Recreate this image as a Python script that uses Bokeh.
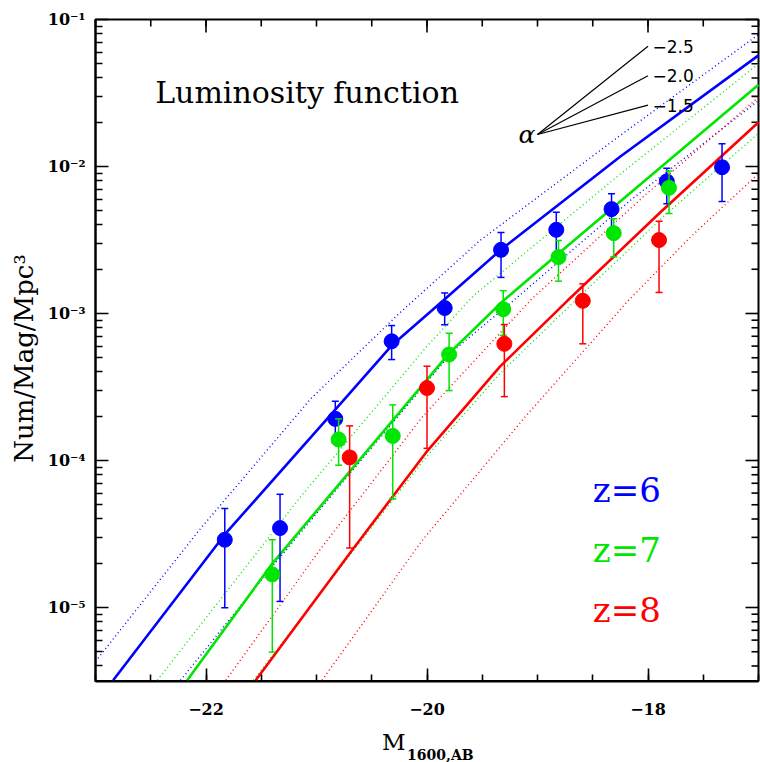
import numpy as np
from bokeh.plotting import figure
from bokeh.models import (Range1d, FixedTicker, Label, CustomJSTickFormatter,
                          ColumnDataSource)
from bokeh.embed import file_html
from bokeh.resources import INLINE

# ---------------- data ----------------
# z = 6 (blue) data points
M6 = [-21.83, -21.33, -20.83, -20.32, -19.84, -19.33, -18.83, -18.33, -17.83, -17.33]
phi6 = [2.89e-5, 3.47e-5, 1.92e-4, 6.47e-4, 1.09e-3, 2.71e-3, 3.71e-3, 5.13e-3, 7.91e-3, 9.88e-3]
hi6 = [4.71e-5, 5.89e-5, 2.53e-4, 8.28e-4, 1.38e-3, 3.56e-3, 4.89e-3, 6.52e-3, 9.73e-3, 1.43e-2]
lo6 = [9.95e-6, 1.10e-5, 1.31e-4, 4.86e-4, 8.38e-4, 1.76e-3, 2.53e-3, 3.74e-3, 5.57e-3, 5.78e-3]

# z = 7 (green) data points
M7 = [-21.40, -20.80, -20.31, -19.80, -19.31, -18.81, -18.31, -17.81]
phi7 = [1.68e-5, 1.39e-4, 1.47e-4, 5.26e-4, 1.07e-3, 2.42e-3, 3.52e-3, 7.16e-3]
hi7 = [2.89e-5, 1.92e-4, 2.39e-4, 7.34e-4, 1.43e-3, 3.14e-3, 4.41e-3, 9.31e-3]
lo7 = [4.97e-6, 9.29e-5, 5.48e-5, 2.99e-4, 7.10e-4, 1.66e-3, 2.43e-3, 4.79e-3]

# z = 8 (red) data points
M8 = [-20.70, -20.00, -19.30, -18.59, -17.90]
phi8 = [1.05e-4, 3.11e-4, 6.22e-4, 1.22e-3, 3.16e-3]
hi8 = [1.72e-4, 4.38e-4, 8.41e-4, 1.59e-3, 4.25e-3]
lo8 = [2.54e-5, 1.21e-4, 2.72e-4, 6.22e-4, 1.39e-3]

# model curves (solid = best fit, dotted = alternatives), from box edge to box edge
bs_M = [-22.84, -21.83, -20.83, -20.32, -19.84, -19.33, -18.25, -17.0]
bs_phi = [3.2e-6, 3.14e-5, 2.22e-4, 6.05e-4, 1.25e-3, 2.72e-3, 1.17e-2, 5.7e-2]
bdu_M = [-23.0, -22.05, -21.05, -20.24, -19.52, -18.25, -17.0]
bdu_phi = [4.3e-6, 3.44e-5, 2.64e-4, 1.02e-3, 3.14e-3, 1.63e-2, 7.9e-2]
bdl_M = [-22.23, -21.40, -20.69, -19.76, -19.22, -18.16, -17.0]
bdl_phi = [3.2e-6, 1.90e-5, 8.28e-5, 5.6e-4, 1.22e-3, 5.88e-3, 2.81e-2]

gs_M = [-22.17, -21.40, -19.80, -19.31, -18.81, -17.0]
gs_phi = [3.2e-6, 1.99e-5, 5.35e-4, 1.22e-3, 2.56e-3, 3.6e-2]
gdu_M = [-22.44, -21.15, -20.01, -19.58, -18.29, -17.0]
gdu_phi = [3.2e-6, 5.6e-5, 5.87e-4, 1.32e-3, 8.41e-3, 5.0e-2]
gdl_M = [-21.57, -20.70, -20.01, -19.34, -18.66, -17.84, -17.0]
gdl_phi = [3.2e-6, 2.26e-5, 1.05e-4, 3.91e-4, 1.22e-3, 4.71e-3, 1.68e-2]

rs_M = [-21.55, -20.70, -20.01, -19.34, -18.73, -17.89, -17.0]
rs_phi = [3.2e-6, 2.33e-5, 1.13e-4, 4.35e-4, 1.22e-3, 4.86e-3, 2.0e-2]
rdu_M = [-21.82, -20.96, -20.04, -19.05, -18.02, -17.0]
rdu_phi = [3.2e-6, 2.52e-5, 1.99e-4, 1.26e-3, 6.45e-3, 2.96e-2]
rdl_M = [-20.95, -20.04, -19.11, -18.18, -17.62, -17.0]
rdl_phi = [3.2e-6, 2.88e-5, 1.99e-4, 1.22e-3, 3.29e-3, 8.95e-3]

# faint-end slope indicator
alpha_vals = [-2.5, -2.0, -1.5]
alpha_labels = ["\u22122.5", "\u22122.0", "\u22121.5"]
alpha_M0, alpha_phi0, alpha_M1 = -19.0, 1.65e-2, -18.0

z_labels = ["z=6", "z=7", "z=8"]
x_ticks = [-22, -20, -18]
y_ticks = [1e-5, 1e-4, 1e-3, 1e-2, 1e-1]

BLUE, GREEN, RED = "#0000ff", "#00e600", "#ff0000"
SERIF = "DejaVu Serif"

# plotting box (data units) and its placement on the 760x762 canvas
XMIN, XMAX = -23.0, -17.0
LOGYMIN, LOGYMAX = -5.5, -1.0
W, H = 760, 762
BOX_L, BOX_T = 95, 19            # px of box left / top edge
PX_PER_MAG, PX_PER_DEX = 110.5, 147.0

x_lo = XMIN - BOX_L / PX_PER_MAG
x_hi = x_lo + W / PX_PER_MAG
ly_hi = LOGYMAX + BOX_T / PX_PER_DEX
ly_lo = ly_hi - H / PX_PER_DEX

# ---------------- figure ----------------
p = figure(width=W, height=H, x_range=Range1d(x_lo, x_hi),
           y_range=Range1d(10 ** ly_lo, 10 ** ly_hi), y_axis_type="log",
           output_backend="svg", toolbar_location=None,
           min_border=0, min_border_left=0, min_border_right=0,
           min_border_top=0, min_border_bottom=0)
p.xgrid.grid_line_color = None
p.ygrid.grid_line_color = None
p.outline_line_color = None
p.background_fill_color = "white"
p.border_fill_color = "white"

xminor = [XMIN + 0.5 * i for i in range(13)]
yminor = [m * 10.0 ** k for k in range(-6, -1) for m in range(2, 10)
          if LOGYMIN <= np.log10(m * 10.0 ** k) <= LOGYMAX]
xticker = FixedTicker(ticks=x_ticks, minor_ticks=xminor)
yticker = FixedTicker(ticks=y_ticks, minor_ticks=yminor)

yfmt = CustomJSTickFormatter(code="""
const e = Math.round(Math.log10(tick));
const sup = {'-':'\u207b','0':'\u2070','1':'\u00b9','2':'\u00b2','3':'\u00b3','4':'\u2074','5':'\u2075','6':'\u2076','7':'\u2077','8':'\u2078','9':'\u2079'};
return '10' + String(e).split('').map(c => sup[c]).join('');
""")
xfmt = CustomJSTickFormatter(code="""
return tick < 0 ? '\u2212' + Math.abs(tick) : String(tick);
""")

MAJ, MIN = 13, 7
xa, ya = p.xaxis[0], p.yaxis[0]
xa.ticker, ya.ticker = xticker, yticker
xa.formatter, ya.formatter = xfmt, yfmt
xa.fixed_location = 10 ** LOGYMIN
ya.fixed_location = XMIN
xa.bounds = (XMIN, XMAX)
ya.bounds = (10 ** LOGYMIN, 10 ** LOGYMAX)
for ax, standoff in [(xa, 22), (ya, 10)]:
    ax.axis_line_width = 2
    ax.major_tick_in = MAJ
    ax.major_tick_out = 0
    ax.minor_tick_in = MIN
    ax.minor_tick_out = 0
    ax.major_tick_line_width = 1.6
    ax.minor_tick_line_width = 1.6
    ax.major_label_text_font = SERIF
    ax.major_label_text_font_style = "bold"
    ax.major_label_text_font_size = "16px"
    ax.major_label_text_color = "black"
    ax.major_label_standoff = standoff

# box outline and mirrored ticks on the top and right edges
p.quad(left=[XMIN], right=[XMAX], bottom=[10 ** LOGYMIN], top=[10 ** LOGYMAX],
       fill_color=None, line_color="black", line_width=2)
dx = 1.0 / PX_PER_MAG
ddex = 1.0 / PX_PER_DEX
tx = xminor + x_ticks
tl = [MIN * ddex] * len(xminor) + [MAJ * ddex] * len(x_ticks)
p.segment(x0=tx, y0=[10 ** LOGYMAX] * len(tx), x1=tx,
          y1=[10 ** (LOGYMAX - l) for l in tl], line_color="black", line_width=1.6)
ty = yminor + y_ticks
tlen = [MIN * dx] * len(yminor) + [MAJ * dx] * len(y_ticks)
p.segment(x0=[XMAX] * len(ty), y0=ty, x1=[XMAX - l for l in tlen], y1=ty,
          line_color="black", line_width=1.6)

# ---------------- curves ----------------
dotted = dict(line_width=1.4, line_dash="1 3")
solid = dict(line_width=2.6)
p.line(bdu_M, bdu_phi, line_color=BLUE, **dotted)
p.line(bdl_M, bdl_phi, line_color=BLUE, **dotted)
p.line(gdu_M, gdu_phi, line_color=GREEN, **dotted)
p.line(gdl_M, gdl_phi, line_color=GREEN, **dotted)
p.line(rdu_M, rdu_phi, line_color=RED, **dotted)
p.line(rdl_M, rdl_phi, line_color=RED, **dotted)
p.line(bs_M, bs_phi, line_color=BLUE, **solid)
p.line(gs_M, gs_phi, line_color=GREEN, **solid)
p.line(rs_M, rs_phi, line_color=RED, **solid)

# ---------------- data points with error bars ----------------
for M, phi, hi, lo, col in [(M6, phi6, hi6, lo6, BLUE),
                            (M7, phi7, hi7, lo7, GREEN),
                            (M8, phi8, hi8, lo8, RED)]:
    src = ColumnDataSource(dict(M=M, phi=phi, hi=hi, lo=lo))
    p.segment(x0="M", y0="lo", x1="M", y1="hi", source=src,
              line_color=col, line_width=1.5)
    p.scatter(x="M", y="hi", marker="dash", size=7, source=src,
              line_color=col, line_width=1.5)
    p.scatter(x="M", y="lo", marker="dash", size=7, source=src,
              line_color=col, line_width=1.5)
    p.scatter(x="M", y="phi", marker="circle", size=15, source=src,
              fill_color=col, line_color=col)

# ---------------- slope indicator ----------------
ends = [alpha_phi0 * 10 ** (-0.4 * (a + 1) * (alpha_M1 - alpha_M0)) for a in alpha_vals]
p.segment(x0=[alpha_M0] * 3, y0=[alpha_phi0] * 3, x1=[alpha_M1] * 3, y1=ends,
          line_color="black", line_width=1.2)
for lab, yv in zip(alpha_labels, ends):
    p.add_layout(Label(x=alpha_M1 + 0.04, y=yv, text=lab, text_font="DejaVu Sans",
                       text_font_size="17px", text_color="black",
                       text_baseline="middle", text_align="left"))
p.add_layout(Label(x=alpha_M0 - 0.02, y=alpha_phi0, text="\u03b1", text_font=SERIF,
                   text_font_style="italic", text_font_size="25px", text_color="black",
                   text_baseline="middle", text_align="right"))

# ---------------- texts (positions are vertical centres) ----------------
p.add_layout(Label(x=-22.46, y=3.21e-2, text="Luminosity function", text_font=SERIF,
                   text_font_size="30px", text_color="black", text_baseline="middle"))
for lab, yv, col in zip(z_labels, [6.27e-5, 2.45e-5, 9.57e-6], [BLUE, GREEN, RED]):
    p.add_layout(Label(x=-18.50, y=yv, text=lab, text_font=SERIF, text_color=col,
                       text_font_size="34px", text_baseline="middle"))

# axis titles
p.add_layout(Label(x=-23.645, y=4.94e-4, text="Num/Mag/Mpc\u00b3", text_font=SERIF,
                   text_font_size="26px", text_color="black", angle=np.pi / 2,
                   text_align="center", text_baseline="middle"))
p.add_layout(Label(x=-20.195, y=1.21e-6, text="M", text_font=SERIF, text_color="black",
                   text_font_size="23px", text_align="right", text_baseline="middle"))
p.add_layout(Label(x=-20.18, y=1.0e-6, text="1600,AB", text_font=SERIF,
                   text_color="black", text_font_size="14px", text_font_style="bold",
                   text_align="left", text_baseline="middle"))

open("out.html", "w").write(file_html(p, INLINE))
